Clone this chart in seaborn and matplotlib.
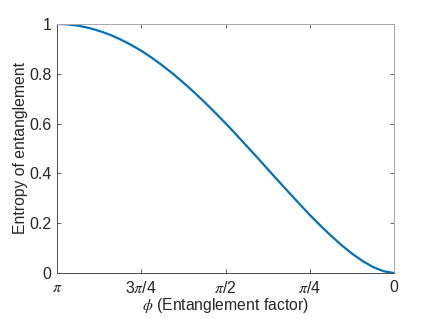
import matplotlib

matplotlib.use("Agg")

import matplotlib.pyplot as plt
import numpy as np
import pandas as pd
import seaborn as sns

# phi in multiples of pi (pi down to 0, steps of pi/32), entropy
phi_over_pi = [32/32, 31/32, 30/32, 29/32, 28/32, 27/32, 26/32, 25/32, 24/32,
               23/32, 22/32, 21/32, 20/32, 19/32, 18/32, 17/32, 16/32,
               15/32, 14/32, 13/32, 12/32, 11/32, 10/32, 9/32, 8/32,
               7/32, 6/32, 5/32, 4/32, 3/32, 2/32, 1/32, 0.0]
entropy = [1.0, 0.998, 0.993, 0.984, 0.972, 0.957, 0.938, 0.9165, 0.892,
           0.864, 0.833, 0.800, 0.764, 0.726, 0.686, 0.644, 0.601,
           0.556, 0.510, 0.464, 0.417, 0.370, 0.324, 0.278, 0.233,
           0.1905, 0.150, 0.1123, 0.078, 0.0485, 0.024, 0.0073, 0.0]

x_tick_fracs = [1.0, 0.75, 0.5, 0.25, 0.0]
x_tick_labels = [r"$\pi$", r"3$\pi$/4", r"$\pi$/2", r"$\pi$/4", "0"]
y_ticks = [0, 0.2, 0.4, 0.6, 0.8, 1.0]
y_tick_labels = ["0", "0.2", "0.4", "0.6", "0.8", "1"]

df = pd.DataFrame({"phi": np.array(phi_over_pi) * np.pi, "S": entropy})

sns.set_theme(style="ticks")
plt.rcParams["font.family"] = ["Liberation Sans", "DejaVu Sans"]
plt.rcParams["mathtext.fontset"] = "stix"

fig = plt.figure(figsize=(4.36, 3.19), dpi=100)
ax = fig.add_axes([0.131, 0.144, 0.773, 0.781])

sns.lineplot(data=df, x="phi", y="S", ax=ax, color="#0072BD", linewidth=1.6)

ax.set_xlim(np.pi, 0)
ax.set_ylim(0, 1)
ax.set_xticks(np.array(x_tick_fracs) * np.pi)
ax.set_xticklabels(x_tick_labels)
ax.set_yticks(y_ticks)
ax.set_yticklabels(y_tick_labels)

dark, light = "#4a4a4a", "#a8a8a8"
for side, col in [("left", dark), ("bottom", dark), ("top", light), ("right", light)]:
    ax.spines[side].set_visible(True)
    ax.spines[side].set_color(col)
    ax.spines[side].set_linewidth(0.7)
ax.tick_params(direction="in", length=3, width=0.6, color=dark, labelcolor="#262626",
               labelsize=11.5, pad=4)
ax.tick_params(axis="x", pad=5)
ax.tick_params(which="both", top=True, right=True)
for t in ax.xaxis.get_ticklines()[1::2] + ax.yaxis.get_ticklines()[1::2]:
    t.set_color(light)
ax.set_xlabel(r"$\phi$ (Entanglement factor)", fontsize=11.3, color="#262626", labelpad=0)
ax.set_ylabel("Entropy of entanglement", fontsize=11.3, color="#262626", labelpad=1)

fig.savefig("out.png", dpi=100)
